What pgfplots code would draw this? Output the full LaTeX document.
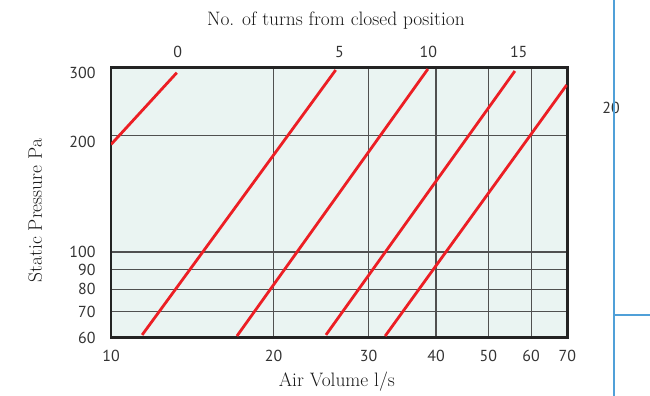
\documentclass[border=0pt]{standalone}
\usepackage{pgfplots}
\pgfplotsset{compat=1.18}
\usepackage{fontspec}
\setsansfont{PT Sans}

\definecolor{panel}{RGB}{234,244,242}
\definecolor{curve}{RGB}{236,30,36}
\definecolor{gridc}{RGB}{80,80,80}
\definecolor{frame}{RGB}{35,35,35}
\definecolor{rule}{RGB}{80,160,216}

\newcommand{\ticksfont}{\fontsize{16}{18}\selectfont\sffamily}
\newcommand{\titlefont}{\fontsize{19.5}{22}\selectfont}
% set a label lower while keeping its box where it was
\newcommand{\low}[1]{\raisebox{-6bp}[\height][\depth]{#1}}

\begin{document}
\begin{tikzpicture}
\useasboundingbox (0,0) rectangle (650bp,-396bp);

% page number and margin rules
\node[font=\ticksfont, text=black!80] at (611bp,-108bp) {20};
\draw[rule, line width=1.8bp] (613.7bp,0) -- (613.7bp,-396bp);
\draw[rule, line width=1.8bp] (613.7bp,-315bp) -- (650bp,-315bp);

\begin{axis}[
  at={(111bp,-337.7bp)}, anchor=south west,
  scale only axis, width=456.3bp, height=270.3bp,
  xmode=log, ymode=log,
  xmin=10, xmax=70, ymin=60, ymax=300,
  xtick={10,20,30,40,50,60,70},
  xticklabels={10,20,30,40,50,60,70},
  ytick={60,70,80,90,100,200,300},
  yticklabels={60,70,80,90,100,\low{200},\low{300}},
  xminorticks=false, yminorticks=false,
  major tick length=0pt,
  tick label style={font=\ticksfont, text=black!80},
  xticklabel style={yshift=-9bp},
  yticklabel style={xshift=-12bp},
  grid=major,
  major grid style={draw=gridc, line width=1.3bp},
  axis line style={draw=frame, line width=2.6bp},
  axis background/.style={fill=panel},
  xlabel={Air Volume l/s},
  ylabel={Static Pressure Pa},
  label style={font=\titlefont, text=black!90},
  xlabel style={at={(axis description cs:0.495,-0.164)}, anchor=center},
  ylabel style={at={(axis description cs:-0.166,0.47)}, anchor=center},
  clip=true,
]
% damper curves, 0 / 5 / 10 / 15 / fully open turns
\addplot[curve, line width=2.8bp] coordinates {(10,189.6) (13.24,290.7)};
\addplot[curve, line width=2.8bp] coordinates {(11.42,61.0) (26.07,295.4)};
\addplot[curve, line width=2.8bp] coordinates {(17.11,60.6) (38.63,297.1)};
\addplot[curve, line width=2.8bp] coordinates {(25.01,61.0) (55.97,293.6)};
\addplot[curve, line width=2.8bp] coordinates {(32.19,60.6) (69.81,270.2)};
\end{axis}

% secondary scale: turns from closed position
\begin{axis}[
  at={(111bp,-337.7bp)}, anchor=south west,
  scale only axis, width=456.3bp, height=270.3bp,
  xmode=log, xmin=10, xmax=70, ymin=0, ymax=1,
  axis x line*=top, hide y axis,
  axis line style={draw=none},
  xtick={13.29,26.5,38.7,56.9},
  xticklabels={0,5,10,15},
  xminorticks=false,
  major tick length=0pt,
  xticklabel style={font=\ticksfont, text=black!80, yshift=6bp},
  xlabel={No. of turns from closed position},
  xlabel style={font=\titlefont, text=black!90,
    at={(axis description cs:0.493,1.175)}, anchor=center},
]
\end{axis}
\end{tikzpicture}
\end{document}
